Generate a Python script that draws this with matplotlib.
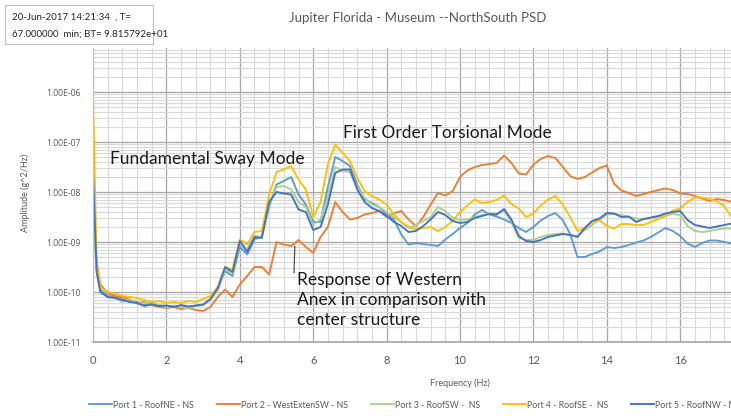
import numpy as np
import matplotlib
matplotlib.use("Agg")
import matplotlib.pyplot as plt
from matplotlib.ticker import MultipleLocator, LogLocator, FuncFormatter, NullFormatter
from matplotlib.patches import Rectangle

plt.rcParams['font.family'] = ['Lato', 'DejaVu Sans']

# ---------------- data (log10 of PSD amplitude, g^2/Hz) ----------------
freq = np.concatenate([[0.0, 0.1], np.round(np.arange(0.2, 17.41, 0.2), 1)])

port1_log = [-7.7, -9.55,
    -9.95, -10.08, -10.1, -10.15, -10.18, -10.2, -10.26, -10.24, -10.27, -10.28, -10.3, -10.27, -10.3, -10.27, -10.26,
    -10.15, -9.95, -9.58, -9.68, -9.1, -9.25, -8.95, -8.88, -8.3, -7.85,
    -7.78, -7.7, -8.05, -8.25, -8.6, -8.6, -7.9, -7.3, -7.38, -7.48,
    -7.85, -8.15, -8.22, -8.3, -8.45, -8.55, -8.85, -9.05, -9.02, -9.04,
    -9.06, -9.08, -8.95, -8.84, -8.72, -8.62, -8.45, -8.36, -8.45, -8.49,
    -8.55, -8.62, -8.72, -8.8, -8.7, -8.57, -8.48, -8.42, -8.56, -8.84,
    -9.3, -9.3, -9.24, -9.19, -9.1, -9.12, -9.1, -9.06, -9.01, -8.97,
    -8.9, -8.81, -8.72, -8.78, -8.88, -9.03, -9.1, -9.02, -8.97, -8.97,
    -9.0, -9.03]

port2_log = [-8.2, -9.4,
    -9.85, -10.02, -10.08, -10.1, -10.15, -10.22, -10.2, -10.26, -10.3, -10.32, -10.3, -10.34, -10.32, -10.36, -10.38,
    -10.3, -10.1, -9.95, -10.1, -9.85, -9.68, -9.5, -9.5, -9.65, -9.0,
    -9.05, -9.08, -8.96, -9.1, -9.22, -8.9, -8.7, -8.2, -8.4, -8.55,
    -8.52, -8.45, -8.42, -8.38, -8.5, -8.42, -8.38, -8.55, -8.68, -8.5,
    -8.25, -8.02, -8.07, -7.98, -7.7, -7.57, -7.5, -7.46, -7.44, -7.42,
    -7.27, -7.42, -7.63, -7.65, -7.45, -7.34, -7.28, -7.32, -7.5, -7.68,
    -7.74, -7.7, -7.61, -7.52, -7.47, -7.84, -7.97, -8.02, -8.08, -8.04,
    -8.0, -7.96, -7.93, -7.96, -8.03, -8.04, -8.08, -8.13, -8.18, -8.14,
    -8.16, -8.2]

port3_log = [-8.45, -9.6,
    -10.0, -10.1, -10.12, -10.2, -10.14, -10.24, -10.22, -10.2, -10.26, -10.3, -10.27, -10.3, -10.33, -10.28, -10.26,
    -10.16, -9.96, -9.55, -9.62, -9.0, -9.15, -8.88, -8.9, -8.25, -7.9,
    -7.88, -7.95, -8.2, -8.3, -8.65, -8.55, -8.1, -7.5, -7.58, -7.6,
    -7.9, -8.12, -8.25, -8.3, -8.4, -8.5, -8.6, -8.72, -8.66, -8.58,
    -8.5, -8.3, -8.38, -8.52, -8.56, -8.55, -8.5, -8.46, -8.43, -8.43,
    -8.38, -8.6, -8.92, -8.96, -8.96, -8.9, -8.86, -8.84, -8.83, -8.86,
    -8.88, -8.76, -8.66, -8.56, -8.45, -8.44, -8.46, -8.5, -8.53, -8.54,
    -8.53, -8.5, -8.47, -8.44, -8.46, -8.68, -8.78, -8.8, -8.78, -8.75,
    -8.73, -8.73]

port4_log = [-6.1, -9.45,
    -9.9, -10.0, -10.03, -10.08, -10.1, -10.12, -10.16, -10.2, -10.18, -10.22, -10.2, -10.22, -10.18, -10.2, -10.14,
    -10.08, -9.9, -9.5, -9.55, -8.95, -9.05, -8.8, -8.78, -8.05, -7.6,
    -7.55, -7.48, -7.75, -7.95, -8.5, -8.2, -7.45, -7.05, -7.22, -7.38,
    -7.72, -7.98, -8.08, -8.15, -8.25, -8.45, -8.6, -8.7, -8.74, -8.72,
    -8.7, -8.78, -8.7, -8.58, -8.4, -8.27, -8.15, -8.22, -8.2, -8.16,
    -8.07, -8.24, -8.33, -8.5, -8.43, -8.27, -8.15, -8.08, -8.25, -8.5,
    -8.78, -8.72, -8.6, -8.56, -8.68, -8.73, -8.64, -8.64, -8.66, -8.66,
    -8.6, -8.54, -8.48, -8.37, -8.33, -8.2, -8.11, -8.11, -8.14, -8.19,
    -8.28, -8.5]

port5_log = [-7.6, -9.6,
    -10.0, -10.1, -10.12, -10.16, -10.2, -10.22, -10.28, -10.25, -10.28, -10.27, -10.3, -10.26, -10.29, -10.27, -10.25,
    -10.14, -9.92, -9.5, -9.6, -8.98, -9.2, -8.9, -8.92, -8.2, -8.0,
    -8.03, -8.05, -8.35, -8.4, -8.76, -8.7, -8.25, -7.62, -7.55, -7.55,
    -7.95, -8.2, -8.32, -8.38, -8.48, -8.6, -8.68, -8.8, -8.78, -8.68,
    -8.55, -8.4, -8.46, -8.58, -8.62, -8.6, -8.52, -8.48, -8.44, -8.45,
    -8.34, -8.55, -8.88, -8.98, -9.0, -8.96, -8.9, -8.87, -8.84, -8.86,
    -8.9, -8.72, -8.58, -8.53, -8.42, -8.43, -8.5, -8.49, -8.6, -8.54,
    -8.51, -8.48, -8.43, -8.4, -8.38, -8.56, -8.66, -8.69, -8.72, -8.69,
    -8.66, -8.63]

series_labels = ["Port 1 - RoofNE - NS", "Port 2 - WestExtenSW - NS", "Port 3 - RoofSW -  NS",
                 "Port 4 - RoofSE -  NS", "Port 5 - RoofNW - NS"]
series_colors = ["#5B9BD5", "#ED7D31", "#A9D18E", "#FFC000", "#4472C4"]
series_logs = [port1_log, port2_log, port3_log, port4_log, port5_log]

y_ticks = [1e-11, 1e-10, 1e-9, 1e-8, 1e-7, 1e-6]
x_ticks = [0, 2, 4, 6, 8, 10, 12, 14, 16]

# ---------------- figure ----------------
W, H = 731, 416
fig = plt.figure(figsize=(W / 100, H / 100), dpi=100)
fig.patch.set_facecolor("white")

def fx(px):
    return px / W

def fy(py):
    return 1 - py / H

ax = fig.add_axes([fx(93), fy(342), fx(731) - fx(93), fy(48) - fy(342)])
ax.set_yscale("log")

handles = []
for lab, col, lg in zip(series_labels, series_colors, series_logs):
    assert len(lg) == len(freq), (lab, len(lg), len(freq))
    h, = ax.plot(freq, 10 ** np.array(lg), color=col, lw=1.35, label=lab, solid_joinstyle="round")
    handles.append(h)

ax.set_xlim(0, (731 - 93) / 36.7)
ax.set_ylim(1e-11, 10 ** (-6 + 44 / 50))

ax.xaxis.set_major_locator(plt.FixedLocator(x_ticks))
ax.xaxis.set_minor_locator(MultipleLocator(0.4))
ax.yaxis.set_major_locator(plt.FixedLocator(y_ticks))
ax.yaxis.set_minor_locator(LogLocator(base=10, subs=np.arange(2, 10), numticks=20))
ax.yaxis.set_minor_formatter(NullFormatter())
ax.yaxis.set_major_formatter(FuncFormatter(lambda v, p: "1.00E-%02d" % round(-np.log10(v))))

ax.grid(which="major", axis="both", color="#A6A6A6", lw=0.9)
ax.grid(which="minor", axis="both", color="#D9D9D9", lw=0.8)
ax.set_axisbelow(True)

ax.tick_params(which="both", length=0)
ax.tick_params(axis="y", labelsize=6.2, labelcolor="#595959", pad=9)
ax.tick_params(axis="x", labelsize=8, labelcolor="#595959", pad=9)
for t in ax.get_yticklabels():
    t.set_fontfamily(["Open Sans", "DejaVu Sans"])

for s in ["top", "right"]:
    ax.spines[s].set_visible(False)
ax.spines["left"].set_color("#BFBFBF")
ax.spines["bottom"].set_color("#A6A6A6")
ax.spines["bottom"].set_linewidth(1.2)

# titles and axis labels
fig.text(fx(418), fy(18), "Jupiter Florida - Museum --NorthSouth PSD", ha="center", va="center",
         fontsize=9.5, color="#595959")
fig.text(fx(25), fy(193), "Amplitude (g^2/Hz)", rotation=90, ha="center", va="center",
         fontsize=6.5, color="#595959")
fig.text(fx(460), fy(383), "Frequency (Hz)", ha="center", va="center", fontsize=6.5, color="#595959")

# info box
fig.patches.append(Rectangle((fx(5), fy(44)), fx(153) - fx(5), fy(5) - fy(44), transform=fig.transFigure,
                             facecolor="white", edgecolor="#BFBFBF", lw=0.8))
fig.text(fx(12), fy(17), "20-Jun-2017 14:21:34  , T=", ha="left", va="center", fontsize=7, color="#262626")
fig.text(fx(12), fy(34), "67.000000  min; BT= 9.815792e+01", ha="left", va="center", fontsize=7, color="#262626")

# annotations
fig.text(fx(110), fy(159), "Fundamental Sway Mode", ha="left", va="center", fontsize=12.5, color="#1a1a1a")
fig.text(fx(343), fy(133), "First Order Torsional Mode", ha="left", va="center", fontsize=12.5, color="#1a1a1a")
fig.text(fx(297), fy(300), "Response of Western\nAnex in comparison with\ncenter structure", ha="left",
         va="center", fontsize=12.5, color="#1a1a1a", linespacing=1.3)
ax.annotate("", xy=(5.5, 10 ** -9.08), xytext=(fx(294), fy(273)), textcoords="figure fraction",
            arrowprops=dict(arrowstyle="-", color="#404040", lw=0.8, shrinkA=0, shrinkB=0))

# legend (the reference crops the last entry at the right edge)
fig.legend(handles, series_labels, loc="center left", bbox_to_anchor=(fx(85), fy(405)), ncol=5,
           frameon=False, fontsize=6.3, handlelength=2.6, handletextpad=0.15, columnspacing=2.6,
           borderpad=0, labelcolor="#595959")

fig.savefig("out.png", dpi=100, facecolor="white")
